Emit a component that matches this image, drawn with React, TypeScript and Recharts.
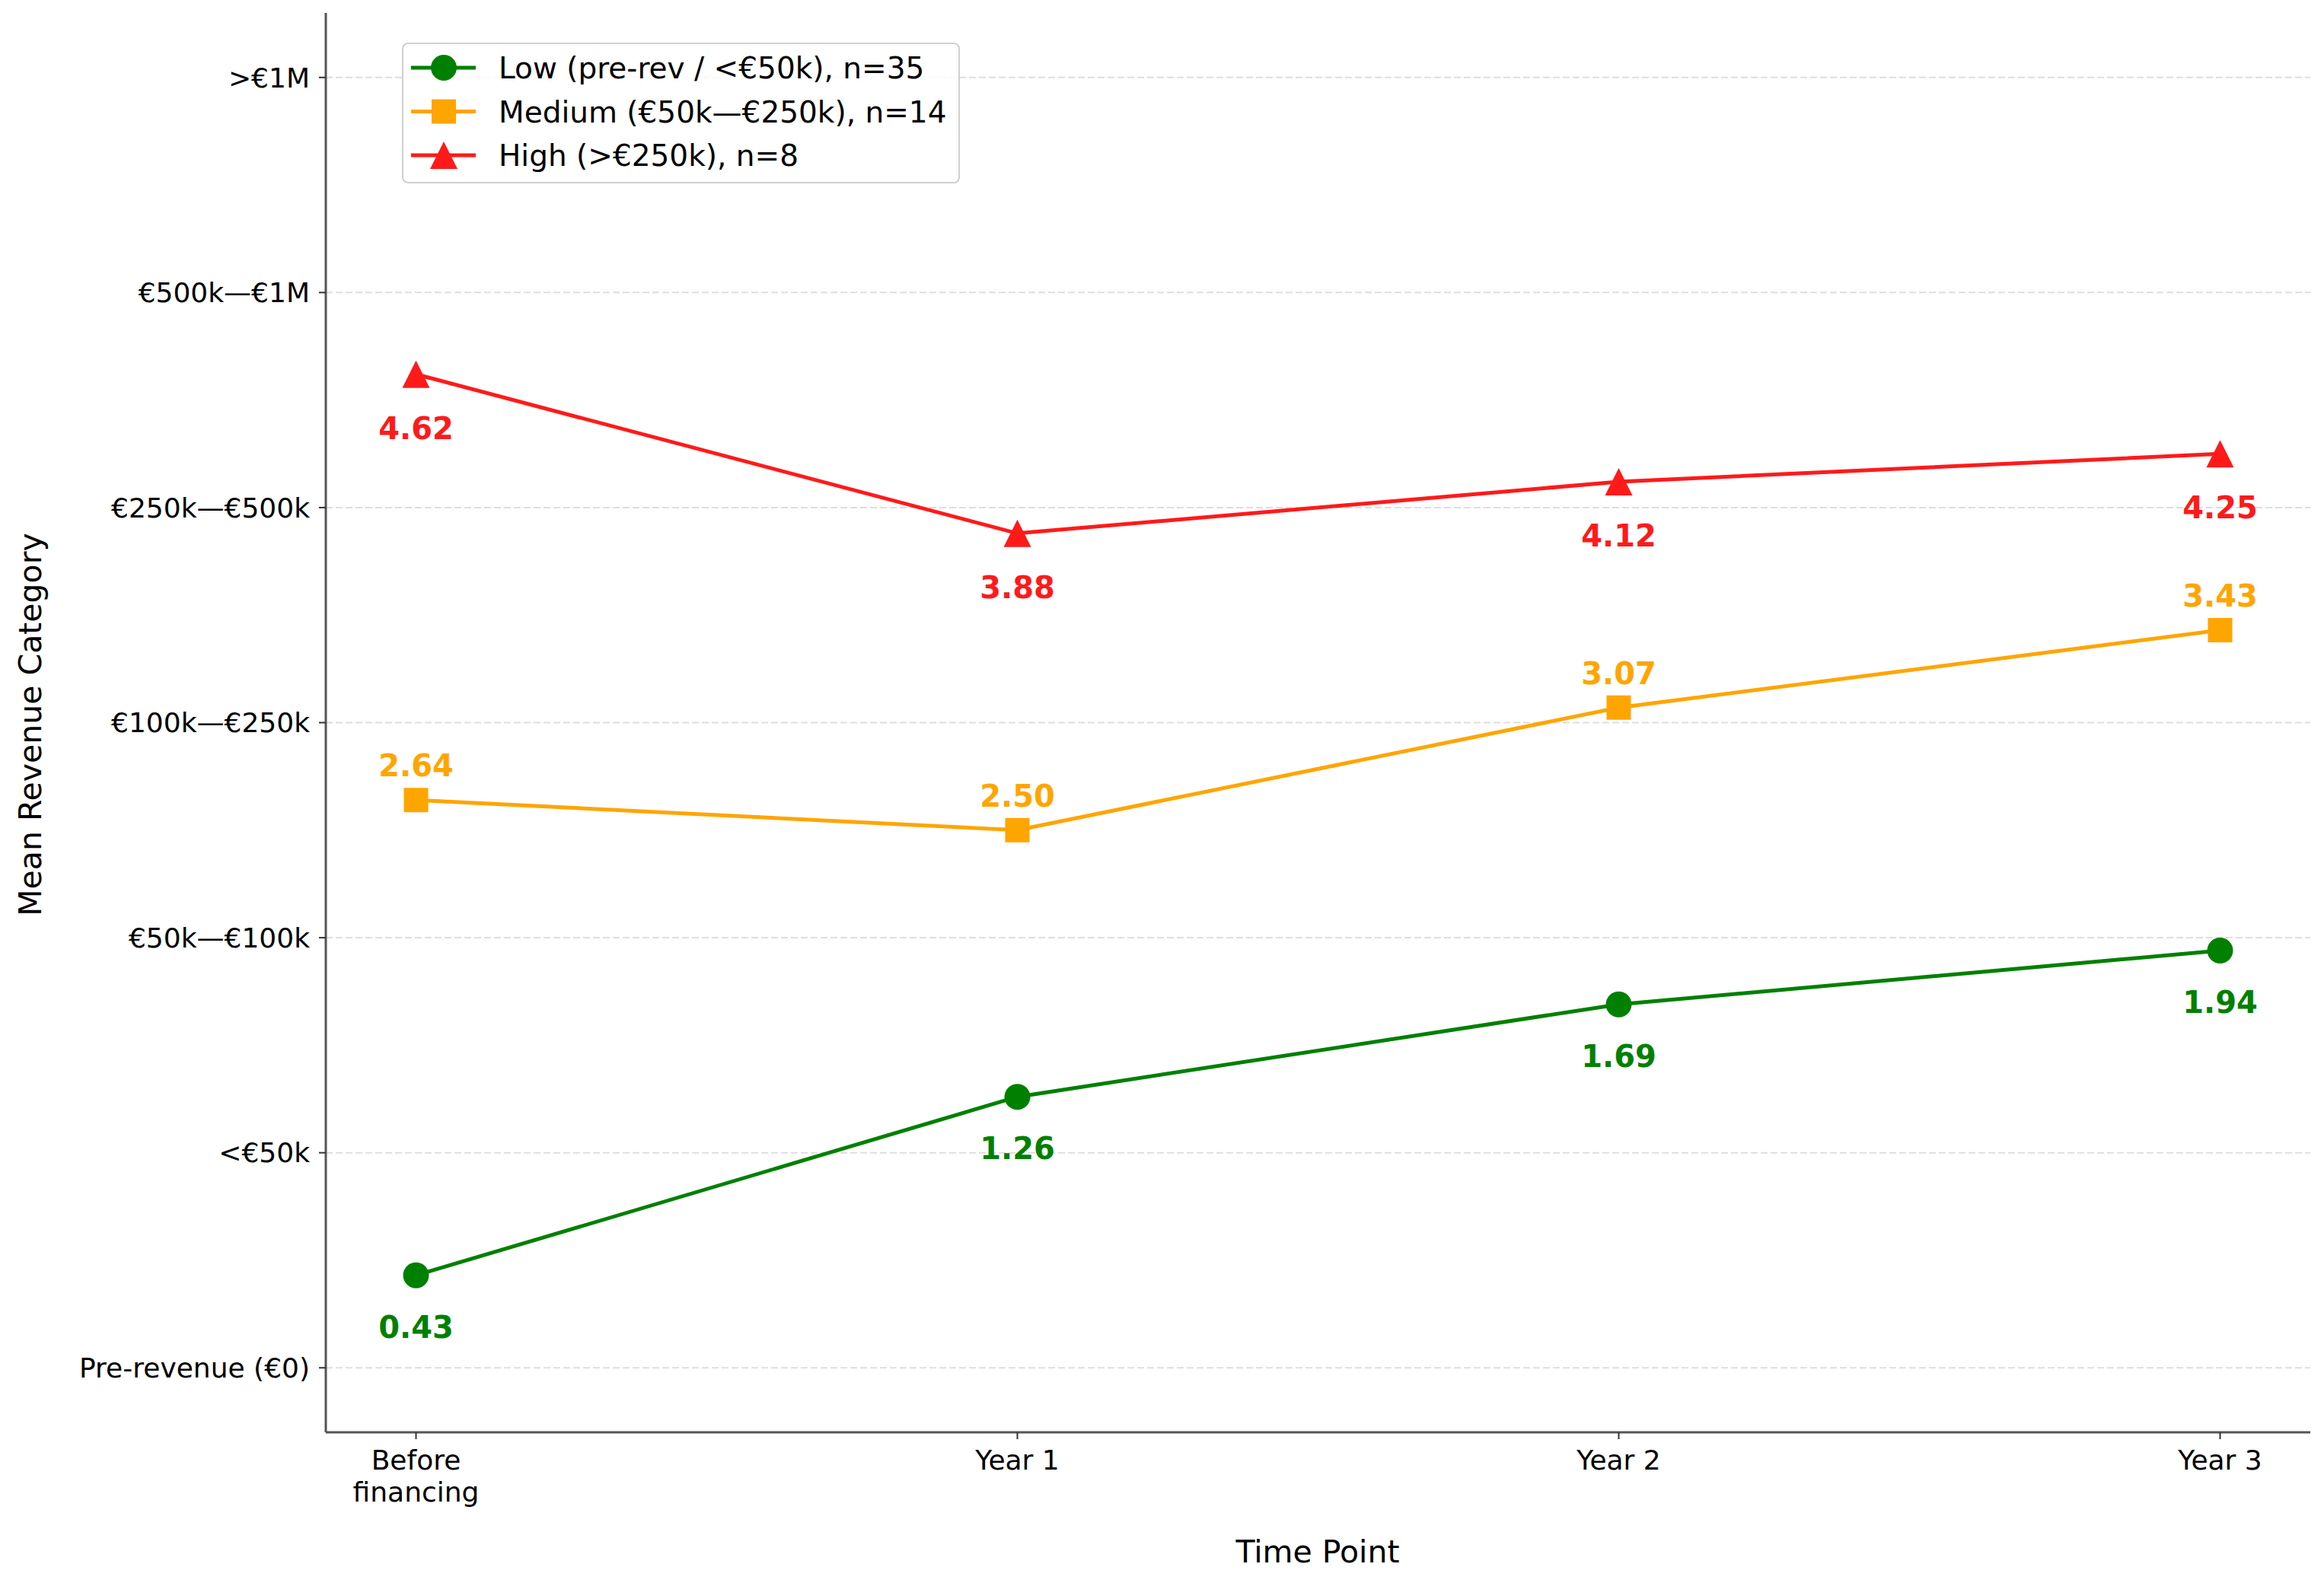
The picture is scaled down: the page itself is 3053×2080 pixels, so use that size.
import React from 'react'
import { LineChart, Line, XAxis, YAxis, CartesianGrid, Legend, LabelList } from 'recharts'

document.body.style.margin = '0'

const FONT = '"DejaVu Sans", Verdana, sans-serif'

// time points on the x axis
const timePoints = [0, 1, 2, 3]
const timeLabels = ['Before\nfinancing', 'Year 1', 'Year 2', 'Year 3']

// revenue category ticks
const revenueTicks = [0, 1, 2, 3, 4, 5, 6]
const revenueLabels = [
  'Pre-revenue (€0)',
  '<€50k',
  '€50k—€100k',
  '€100k—€250k',
  '€250k—€500k',
  '€500k—€1M',
  '>€1M',
]

// mean revenue category per group
const lowValues = [0.43, 1.26, 1.69, 1.94]
const mediumValues = [2.64, 2.5, 3.07, 3.43]
const highValues = [4.62, 3.88, 4.12, 4.25]

const seriesNames = [
  'Low (pre-rev / <€50k), n=35',
  'Medium (€50k—€250k), n=14',
  'High (>€250k), n=8',
]

const data = timePoints.map((t, i) => ({
  t,
  low: lowValues[i],
  medium: mediumValues[i],
  high: highValues[i],
}))

const GREEN = '#008000'
const ORANGE = '#FFA500'
const RED = '#FF1A1A'

type Shape = 'circle' | 'square' | 'triangle'

const marker = (shape: Shape, cx: number, cy: number, color: string, key?: any) => {
  if (shape === 'circle') return <circle key={key} cx={cx} cy={cy} r={17} fill={color} />
  if (shape === 'square') return <rect key={key} x={cx - 16} y={cy - 16} width={32} height={32} fill={color} />
  return (
    <polygon
      key={key}
      points={`${cx},${cy - 18} ${cx - 18},${cy + 18} ${cx + 18},${cy + 18}`}
      fill={color}
    />
  )
}

const dotFor = (shape: Shape, color: string) => (props: any) =>
  marker(shape, props.cx, props.cy, color, props.index)

// value labels, dy is the baseline offset from the point
const labelFor = (color: string, dy: number) => (props: any) => (
  <text
    x={props.x}
    y={props.y + dy}
    textAnchor="middle"
    fill={color}
    fontFamily={FONT}
    fontSize={40}
    fontWeight="bold"
  >
    {Number(props.value).toFixed(2)}
  </text>
)

const XTick = (props: any) => {
  const { x, y, payload } = props
  const lines = timeLabels[Math.round(payload.value)].split('\n')
  return (
    <text x={x} y={y} textAnchor="middle" fill="#000" fontFamily={FONT} fontSize={36}>
      {lines.map((l, i) => (
        <tspan key={i} x={x} dy={i === 0 ? '0.71em' : 42}>
          {l}
        </tspan>
      ))}
    </text>
  )
}

const legendItems: { name: string; color: string; shape: Shape }[] = [
  { name: seriesNames[0], color: GREEN, shape: 'circle' },
  { name: seriesNames[1], color: ORANGE, shape: 'square' },
  { name: seriesNames[2], color: RED, shape: 'triangle' },
]

const LegendBox = () => (
  <svg width={733} height={185} style={{ display: 'block' }}>
    <rect x={1} y={1} width={731} height={183} rx={7} fill="#fff" fillOpacity={0.85} stroke="#d0d0d0" strokeWidth={2} />
    {legendItems.map((it, i) => {
      const cy = 33 + i * 57.5
      return (
        <g key={it.name}>
          <line x1={12} x2={97} y1={cy} y2={cy} stroke={it.color} strokeWidth={5} />
          {marker(it.shape, 55, cy, it.color)}
          <text x={127} y={cy} dy="0.36em" fontFamily={FONT} fontSize={39} fill="#000">
            {it.name}
          </text>
        </g>
      )
    })}
  </svg>
)

export default function App() {
  return (
    <div style={{ width: 3053, height: 2080, background: '#fff', position: 'relative' }}>
      <LineChart width={3053} height={2080} data={data} margin={{ top: 17, right: 18, bottom: 48, left: 28 }}>
        <CartesianGrid
          vertical={false}
          horizontalValues={revenueTicks}
          stroke="#dedede"
          strokeWidth={2}
          strokeDasharray="9 4"
        />
        <XAxis
          dataKey="t"
          type="number"
          domain={[-0.15, 3.15]}
          ticks={timePoints}
          allowDataOverflow
          height={150}
          tick={<XTick />}
          tickSize={9}
          tickMargin={14}
          axisLine={{ stroke: '#555', strokeWidth: 3 }}
          tickLine={{ stroke: '#333', strokeWidth: 2 }}
          label={{
            value: 'Time Point',
            content: () => (
              <text x={1731} y={2053} textAnchor="middle" fontFamily={FONT} fontSize={41} fill="#000">
                Time Point
              </text>
            ),
          }}
        />
        <YAxis
          type="number"
          domain={[-0.3, 6.3]}
          ticks={revenueTicks}
          allowDataOverflow
          width={400}
          tickFormatter={(v: number) => revenueLabels[v]}
          tick={{ fill: '#000', fontFamily: FONT, fontSize: 36 }}
          tickSize={9}
          tickMargin={12}
          axisLine={{ stroke: '#555', strokeWidth: 3 }}
          tickLine={{ stroke: '#333', strokeWidth: 2 }}
          label={{
            value: 'Mean Revenue Category',
            content: () => (
              <text
                x={54}
                y={952}
                transform="rotate(-90 54 952)"
                textAnchor="middle"
                fontFamily={FONT}
                fontSize={41}
                fill="#000"
              >
                Mean Revenue Category
              </text>
            ),
          }}
        />
        <Line
          dataKey="low"
          name={seriesNames[0]}
          stroke={GREEN}
          strokeWidth={5}
          dot={dotFor('circle', GREEN)}
          activeDot={false}
          isAnimationActive={false}
        >
          <LabelList dataKey="low" content={labelFor(GREEN, 82)} />
        </Line>
        <Line
          dataKey="medium"
          name={seriesNames[1]}
          stroke={ORANGE}
          strokeWidth={5}
          dot={dotFor('square', ORANGE)}
          activeDot={false}
          isAnimationActive={false}
        >
          <LabelList dataKey="medium" content={labelFor(ORANGE, -31)} />
        </Line>
        <Line
          dataKey="high"
          name={seriesNames[2]}
          stroke={RED}
          strokeWidth={5}
          dot={dotFor('triangle', RED)}
          activeDot={false}
          isAnimationActive={false}
        >
          <LabelList dataKey="high" content={labelFor(RED, 85)} />
        </Line>
        <Legend
          layout="vertical"
          align="center"
          verticalAlign="middle"
          content={() => <LegendBox />}
          wrapperStyle={{ left: 528, top: 56, width: 733, height: 185 }}
        />
      </LineChart>
    </div>
  )
}
